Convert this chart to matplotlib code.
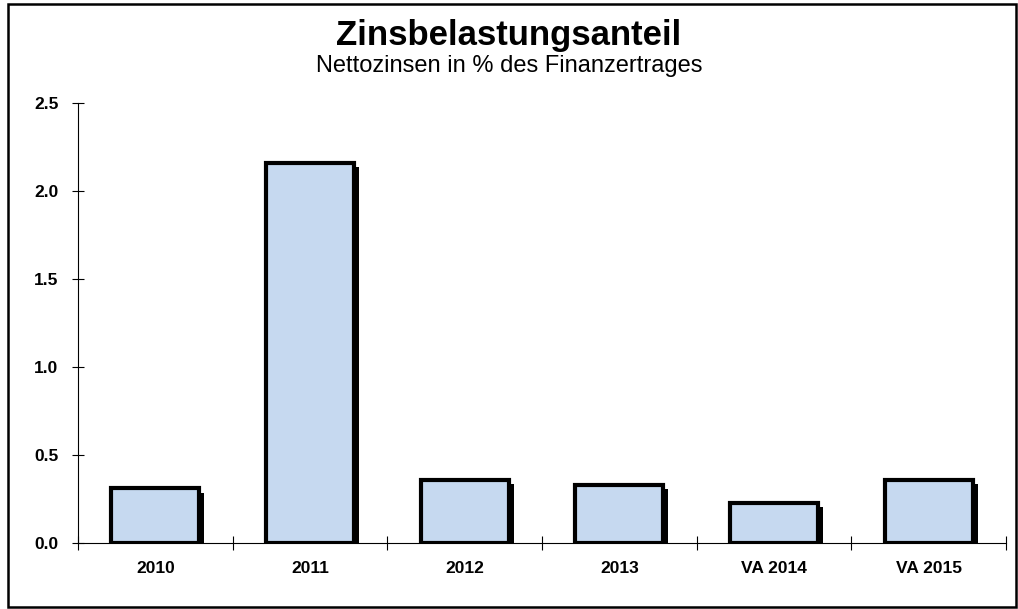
import matplotlib
matplotlib.use('Agg')
import matplotlib.pyplot as plt
import matplotlib.patheffects as pe
from matplotlib.patches import Rectangle
import numpy as np

plt.rcParams['font.family'] = ['Liberation Sans', 'DejaVu Sans']

categories = ['2010', '2011', '2012', '2013', 'VA 2014', 'VA 2015']
values = [0.31, 2.16, 0.36, 0.33, 0.23, 0.36]
yticks = [0.0, 0.5, 1.0, 1.5, 2.0, 2.5]

W, H = 1018, 609
fig = plt.figure(figsize=(W / 100, H / 100), dpi=100)

# axes box in pixels: x 78..1006, y 103..543
ax = fig.add_axes([78 / W, (H - 543) / H, (1006 - 78) / W, (543 - 103) / H])

x = np.arange(len(categories))
bars = ax.bar(x, values, width=0.57, color='#C6D9F0', edgecolor='black',
              linewidth=3, zorder=3)
for b in bars:
    b.set_path_effects([pe.SimplePatchShadow(offset=(3.6, -3), shadow_rgbFace='black',
                                             alpha=1.0), pe.Normal()])

ax.set_xlim(-0.5, len(categories) - 0.5)
ax.set_ylim(0, 2.5)
ax.set_yticks(yticks)
ax.set_yticklabels([f'{v:.1f}' for v in yticks], fontsize=12.5, fontweight='bold')
ax.set_xticks(x)
ax.set_xticklabels(categories, fontsize=12.5, fontweight='bold')
ax.set_xticks(np.arange(len(categories) + 1) - 0.5, minor=True)
ax.tick_params(axis='x', which='major', length=0, pad=13)
ax.tick_params(axis='x', which='minor', direction='inout', length=10, width=0.8)
ax.tick_params(axis='y', direction='inout', length=8, width=0.8, pad=10)

for s in ['top', 'right']:
    ax.spines[s].set_visible(False)
ax.spines['left'].set_linewidth(0.8)
ax.spines['bottom'].set_linewidth(0.8)

fig.text(0.5, 1 - 45 / H, 'Zinsbelastungsanteil', ha='center', va='baseline',
         fontsize=25, fontweight='bold')
fig.text(0.5, 1 - 72 / H, 'Nettozinsen in % des Finanzertrages', ha='center',
         va='baseline', fontsize=17)

# outer frame
fig.patches.append(Rectangle((8 / W, 2 / H), (W - 10) / W, (H - 6) / H,
                             transform=fig.transFigure, fill=False,
                             edgecolor='black', linewidth=1.8))

fig.savefig('out.png', dpi=100)
